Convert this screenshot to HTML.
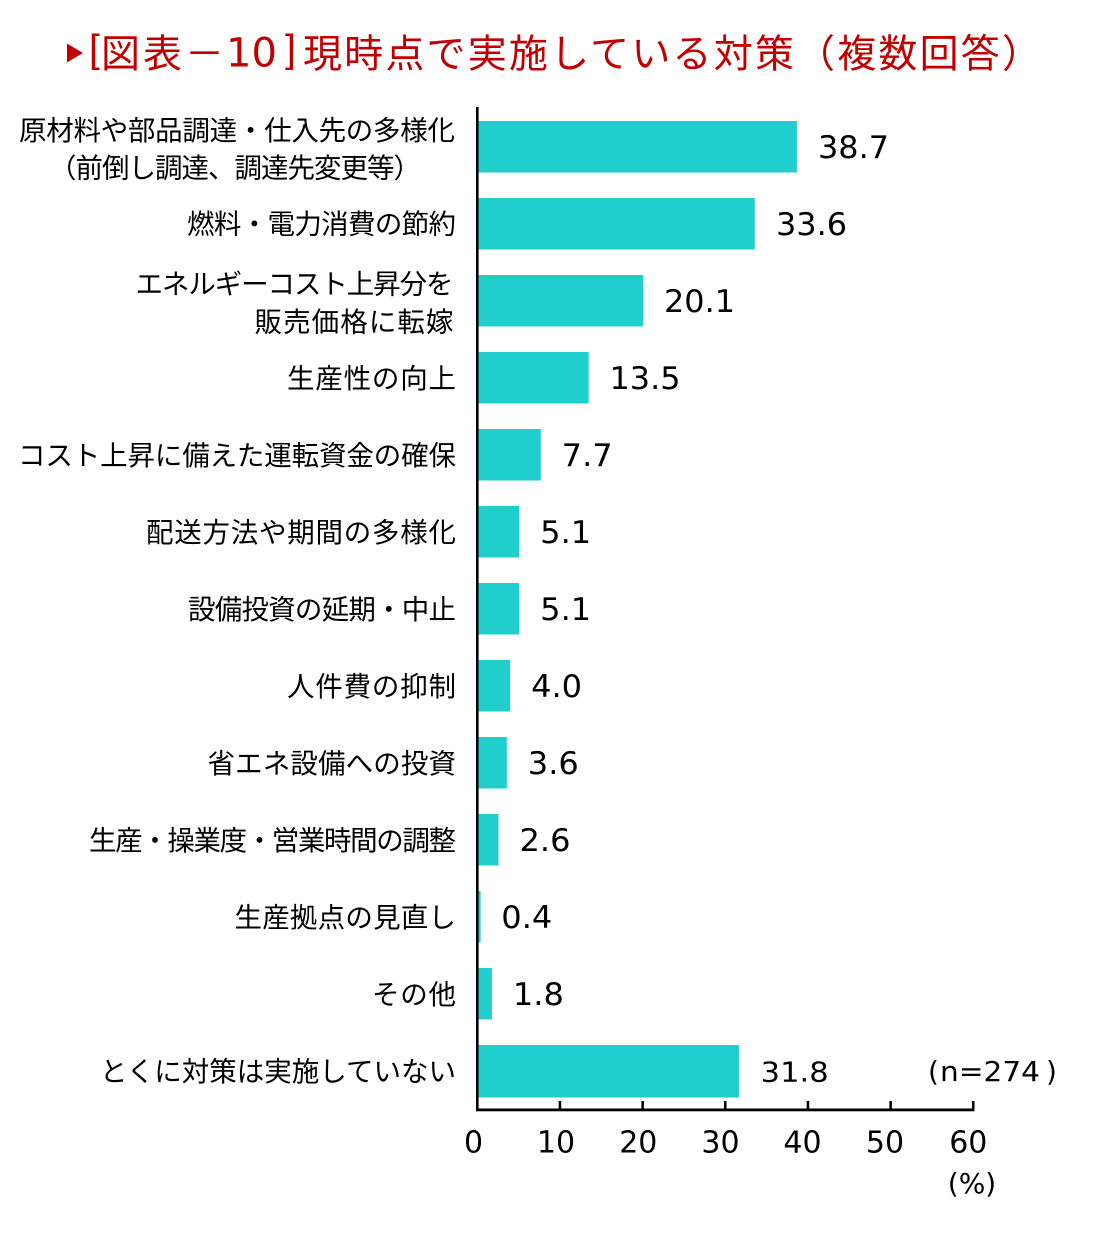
<!DOCTYPE html>
<html>
<head>
<meta charset="utf-8">
<style>
  html, body { margin: 0; padding: 0; background: #fff; }
  svg { display: block; }
  .lab { font-family: "Liberation Sans", "Noto Sans CJK JP", sans-serif; font-size: 27.5px; fill: #000; }
  .val { font-family: "DejaVu Sans", sans-serif; font-size: 31px; fill: #000; }
  .tick { font-family: "DejaVu Sans", sans-serif; font-size: 30px; fill: #000; }
  .ttl { font-family: "Liberation Sans", "Noto Sans CJK JP", sans-serif; font-size: 39px; fill: #c00000; }
</style>
</head>
<body>
<svg width="1104" height="1234" viewBox="0 0 1104 1234" xmlns="http://www.w3.org/2000/svg">
  <rect x="0" y="0" width="1104" height="1234" fill="#ffffff"/>

  <!-- Title -->
  <polygon points="67,43.5 83,53 67,62.5" fill="#c00000"/>
  <text x="89" y="62" font-family="Liberation Sans, sans-serif" font-size="39" fill="#c00000">[</text>
  <text class="ttl" x="101" y="67.5" textLength="123" lengthAdjust="spacing">図表－</text>
  <text x="226" y="66.7" font-family="DejaVu Sans, sans-serif" font-size="40" fill="#c00000">10</text>
  <text x="285" y="62" font-family="Liberation Sans, sans-serif" font-size="39" fill="#c00000">]</text>
  <text class="ttl" x="303" y="67.5" textLength="738" lengthAdjust="spacing">現時点で実施している対策（複数回答）</text>

  <!-- Bars -->
  <g fill="#20cecd">
    <rect x="478.6" y="121" width="318.3" height="51.5"/>
    <rect x="478.6" y="198" width="276.2" height="51.5"/>
    <rect x="478.6" y="275" width="164.6" height="51.5"/>
    <rect x="478.6" y="352" width="110.0" height="51.5"/>
    <rect x="478.6" y="429" width="62.1" height="51.5"/>
    <rect x="478.6" y="506" width="40.6" height="51.5"/>
    <rect x="478.6" y="583" width="40.6" height="51.5"/>
    <rect x="478.6" y="660" width="31.5" height="51.5"/>
    <rect x="478.6" y="737" width="28.2" height="51.5"/>
    <rect x="478.6" y="814" width="19.9" height="51.5"/>
    <rect x="478.6" y="891" width="2.0" height="51.5"/>
    <rect x="478.6" y="968" width="13.3" height="51.5"/>
    <rect x="478.6" y="1045" width="260.3" height="52.5"/>
  </g>

  <!-- Axes -->
  <rect x="476" y="107" width="2.6" height="1004" fill="#000"/>
  <rect x="476" y="1108.5" width="498.5" height="2.8" fill="#000"/>
  <g fill="#000">
    <rect x="558.7" y="1101" width="2.5" height="8"/>
    <rect x="641.4" y="1101" width="2.5" height="8"/>
    <rect x="724.0" y="1101" width="2.5" height="8"/>
    <rect x="806.7" y="1101" width="2.5" height="8"/>
    <rect x="889.4" y="1101" width="2.5" height="8"/>
    <rect x="972.0" y="1101" width="2.5" height="8"/>
  </g>

  <!-- Tick labels -->
  <g class="tick" text-anchor="middle">
    <text x="473.5" y="1152.7">0</text>
    <text x="556" y="1152.7">10</text>
    <text x="638.3" y="1152.7">20</text>
    <text x="720.5" y="1152.7">30</text>
    <text x="802.5" y="1152.7">40</text>
    <text x="885" y="1152.7">50</text>
    <text x="968.3" y="1152.7">60</text>
  </g>
  <text x="972" y="1193" text-anchor="middle" font-family="DejaVu Sans, sans-serif" font-size="28" fill="#000">(%)</text>

  <!-- Value labels -->
  <g class="val">
    <text x="818" y="158" textLength="71" lengthAdjust="spacingAndGlyphs">38.7</text>
    <text x="776" y="235" textLength="71" lengthAdjust="spacingAndGlyphs">33.6</text>
    <text x="664" y="312" textLength="71" lengthAdjust="spacingAndGlyphs">20.1</text>
    <text x="609.5" y="389" textLength="71" lengthAdjust="spacingAndGlyphs">13.5</text>
    <text x="561.7" y="466" textLength="51" lengthAdjust="spacingAndGlyphs">7.7</text>
    <text x="540.2" y="543" textLength="51" lengthAdjust="spacingAndGlyphs">5.1</text>
    <text x="540.2" y="620" textLength="51" lengthAdjust="spacingAndGlyphs">5.1</text>
    <text x="531.1" y="697" textLength="51" lengthAdjust="spacingAndGlyphs">4.0</text>
    <text x="527.8" y="774" textLength="51" lengthAdjust="spacingAndGlyphs">3.6</text>
    <text x="519.5" y="851" textLength="51" lengthAdjust="spacingAndGlyphs">2.6</text>
    <text x="501.3" y="928" textLength="51" lengthAdjust="spacingAndGlyphs">0.4</text>
    <text x="512.9" y="1005" textLength="51" lengthAdjust="spacingAndGlyphs">1.8</text>
  </g>
  <text x="760.7" y="1081.7" font-family="DejaVu Sans, sans-serif" font-size="27.5" fill="#000" textLength="68" lengthAdjust="spacingAndGlyphs">31.8</text>

  <!-- n=274 -->
  <text x="928" y="1081" font-family="DejaVu Sans, sans-serif" font-size="28" fill="#000">(</text>
  <text x="940" y="1081" font-family="DejaVu Sans, sans-serif" font-size="28" fill="#000" textLength="100" lengthAdjust="spacingAndGlyphs">n=274</text>
  <text x="1046" y="1081" font-family="DejaVu Sans, sans-serif" font-size="28" fill="#000">)</text>

  <!-- Category labels -->
  <g class="lab">
    <text x="19" y="139.8" textLength="436" lengthAdjust="spacing">原材料や部品調達・仕入先の多様化</text>
    <text x="49" y="177.5" textLength="372" lengthAdjust="spacing">（前倒し調達、調達先変更等）</text>
  </g>
  <g class="lab" text-anchor="end">
    <text x="456" y="233.6" textLength="269" lengthAdjust="spacing">燃料・電力消費の節約</text>
    <text x="453.5" y="293.5" textLength="318" lengthAdjust="spacing">エネルギーコスト上昇分を</text>
    <text x="453.5" y="331.5" textLength="199" lengthAdjust="spacing">販売価格に転嫁</text>
    <text x="456" y="388.2" textLength="169" lengthAdjust="spacing">生産性の向上</text>
    <text x="456" y="465.2" textLength="438" lengthAdjust="spacing">コスト上昇に備えた運転資金の確保</text>
    <text x="456" y="542.2" textLength="310" lengthAdjust="spacing">配送方法や期間の多様化</text>
    <text x="456" y="619.2" textLength="268" lengthAdjust="spacing">設備投資の延期・中止</text>
    <text x="456" y="696.2" textLength="169" lengthAdjust="spacing">人件費の抑制</text>
    <text x="456" y="773.2" textLength="248.5" lengthAdjust="spacing">省エネ設備への投資</text>
    <text x="456" y="850.2" textLength="367" lengthAdjust="spacing">生産・操業度・営業時間の調整</text>
    <text x="456" y="927.2" textLength="221.5" lengthAdjust="spacing">生産拠点の見直し</text>
    <text x="456" y="1004.2" textLength="84" lengthAdjust="spacing">その他</text>
    <text x="456" y="1081.2" textLength="356" lengthAdjust="spacing">とくに対策は実施していない</text>
  </g>
</svg>
</body>
</html>
